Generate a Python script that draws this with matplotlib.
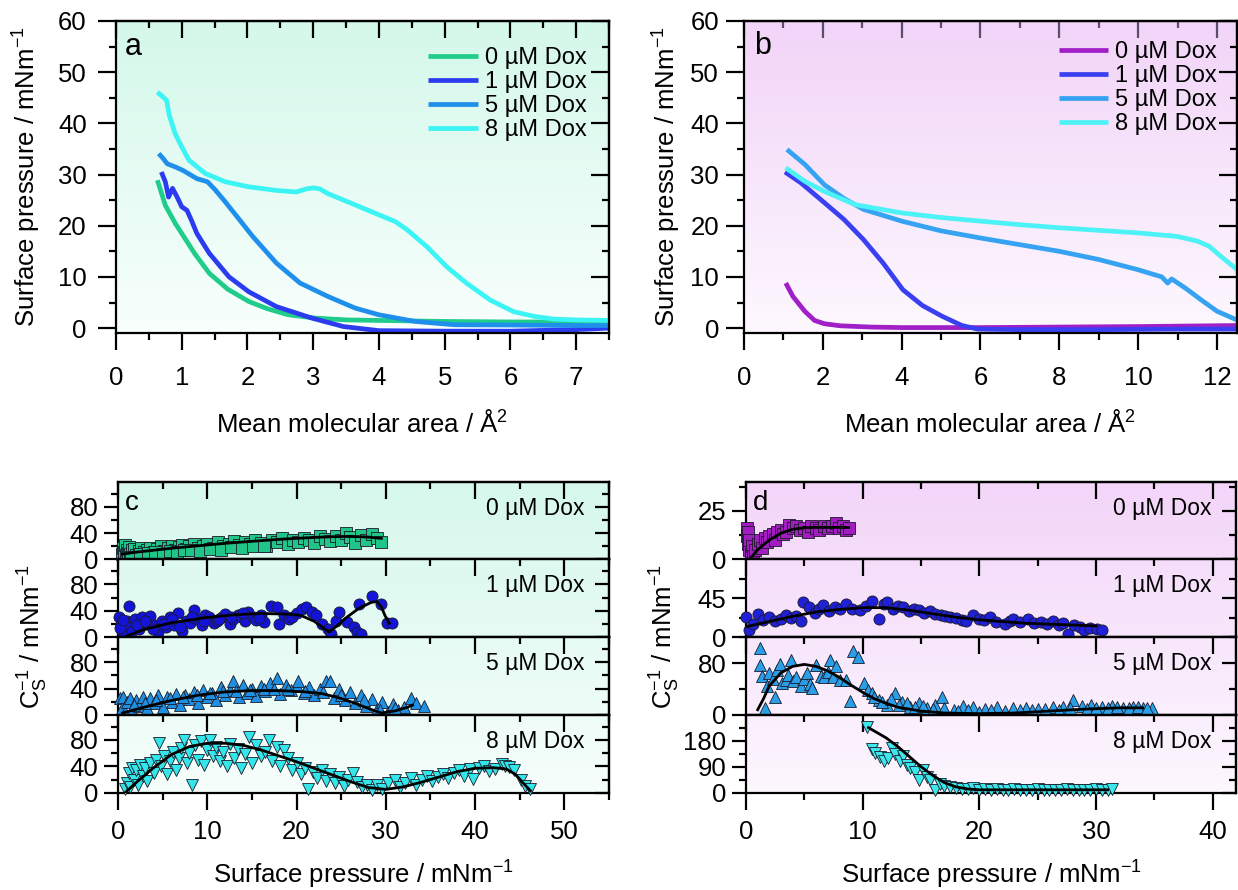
import matplotlib
matplotlib.use("Agg")
import matplotlib.pyplot as plt
import matplotlib.colors as mcolors
import numpy as np
from matplotlib.ticker import MultipleLocator, NullFormatter

plt.rcParams["font.family"] = ["Liberation Sans", "DejaVu Sans"]
plt.rcParams["font.size"] = 18.5
plt.rcParams["axes.linewidth"] = 1.6
plt.rcParams["mathtext.default"] = "regular"

W, H = 1238, 890

labels = ["0 µM Dox", "1 µM Dox", "5 µM Dox", "8 µM Dox"]

# ---- panel a: isotherms ----
area_a0 = [0.63, 0.75, 0.9, 1.0, 1.2, 1.42, 1.7, 2.02, 2.3, 2.62, 3.04, 3.5, 4.0, 5.0, 6.0, 7.0, 7.5]
pi_a0 = [28.9, 24, 20.5, 18.5, 14.5, 10.7, 7.6, 5.2, 3.8, 2.6, 1.95, 1.6, 1.5, 1.3, 1.2, 1.2, 1.2]
area_a1 = [0.69, 0.75, 0.8, 0.86, 0.93, 1.0, 1.08, 1.15, 1.23, 1.42, 1.72, 2.02, 2.44, 2.98, 3.46,
           4.0, 5.0, 6.0, 7.0, 7.5]
pi_a1 = [30.5, 28.6, 25.6, 27.3, 25.6, 23.7, 23.0, 21.0, 18.5, 14.6, 10.0, 7.1, 4.2, 1.95, 0.3,
         -0.5, -0.6, -0.6, -0.3, 0.0]
area_a5 = [0.65, 0.72, 0.78, 0.9, 1.02, 1.23, 1.39, 1.51, 1.66, 1.84, 2.08, 2.44, 2.8, 3.22, 3.64,
           4.0, 4.55, 5.15, 6.0, 7.0, 7.5]
pi_a5 = [34.1, 33.1, 32.1, 31.5, 30.8, 29.2, 28.6, 27.0, 24.7, 21.8, 17.9, 12.7, 8.8, 6.2, 3.9,
         2.6, 1.3, 0.65, 0.6, 0.5, 0.5]
area_a8 = [0.63, 0.72, 0.77, 0.81, 0.9, 1.0, 1.11, 1.36, 1.66, 2.02, 2.44, 2.74, 2.9, 3.0, 3.1,
           3.22, 3.52, 3.95, 4.25, 4.43, 4.73, 5.03, 5.33, 5.69, 6.05, 6.36, 6.66, 7.0, 7.5]
pi_a8 = [46.1, 45.1, 44.5, 41.6, 38.0, 35.4, 32.8, 30.2, 28.6, 27.6, 26.9, 26.6, 27.2, 27.4, 27.2,
         26.3, 24.7, 22.4, 20.8, 19.2, 15.9, 12.0, 8.8, 5.5, 3.2, 2.3, 1.75, 1.6, 1.5]

# ---- panel b: isotherms ----
area_b0 = [1.06, 1.24, 1.54, 1.79, 2.04, 2.44, 3.23, 4, 6, 8, 10, 12.5]
pi_b0 = [8.8, 6.2, 3.3, 1.5, 0.85, 0.45, 0.2, 0.1, 0.1, 0.2, 0.3, 0.5]
area_b1 = [1.04, 1.44, 2.04, 2.54, 3.03, 3.53, 4.03, 4.53, 5.03, 5.53, 5.93, 7, 9, 11, 12.5]
pi_b1 = [30.5, 28.4, 24.5, 21.2, 17.3, 12.7, 7.5, 4.4, 2.3, 0.5, -0.2, -0.3, -0.3, -0.2, -0.2]
area_b5 = [1.09, 1.54, 2.04, 2.54, 3.03, 4.0, 5.0, 6.0, 7.0, 8.0, 9.0, 10.0, 10.6, 10.75, 10.85,
           11.2, 11.6, 12.0, 12.5]
pi_b5 = [34.9, 32.0, 28.0, 25.3, 23.2, 20.9, 19.0, 17.6, 16.3, 15.0, 13.4, 11.4, 10.0, 8.8, 9.6,
         7.8, 5.5, 3.3, 1.6]
area_b8 = [1.06, 1.54, 2.04, 2.83, 4.0, 5.0, 6.0, 7.0, 8.0, 9.0, 10.0, 11.0, 11.5, 11.8, 12.1, 12.5]
pi_b8 = [31.3, 28.7, 26.7, 24.1, 22.5, 21.6, 20.9, 20.2, 19.6, 19.1, 18.6, 17.9, 17.0, 16.0, 14.0, 11.5]

# ---- panel c: compressional modulus (points + fits) ----
pc0 = [0.5, 0.6, 0.7, 0.8, 0.9, 1.0, 1.1, 1.2, 1.4, 1.6, 1.8, 2.0, 2.3, 2.6, 2.9, 3.2, 3.6, 4.0,
       4.4, 4.8, 5.2, 5.6, 6.0, 6.4, 6.8, 7.2, 7.6, 8.0, 8.5, 9.0, 9.5, 10.0, 10.6, 11.2, 11.8,
       12.4, 13.0, 13.6, 14.2, 14.8, 15.4, 16.0, 16.6, 17.2, 17.8, 18.4, 19.0, 19.6, 20.2, 20.8,
       21.4, 22.0, 22.6, 23.2, 23.8, 24.4, 25.0, 25.5, 26.0, 26.6, 27.2, 27.8, 28.4, 29.0, 29.5,
       1.5, 2.5, 3.4, 4.2, 5.0, 5.8, 6.6, 7.4, 8.2, 9.2, 10.3, 11.5, 12.7, 13.9, 15.1, 16.3]
cc0 = [8, 18, 12, 22, 6, 15, 10, 19, 9, 14, 16, 7, 13, 17, 11, 15, 18, 12, 16, 20, 13, 17, 21,
       15, 19, 22, 16, 20, 24, 17, 21, 23, 18, 26, 20, 24, 28, 22, 27, 23, 30, 25, 21, 29, 26,
       32, 24, 30, 27, 33, 29, 25, 35, 31, 28, 36, 30, 40, 34, 25, 37, 29, 39, 33, 26,
       4, 8, 10, 11, 9, 13, 12, 14, 15, 13, 16, 15, 19, 18, 21, 20]
fit_pc0 = [0.5, 2, 4, 6, 8, 10, 12, 14, 16, 18, 20, 22, 24, 26, 28, 29.5]
fit_cc0 = [8, 11, 14, 17, 19.5, 22, 24.5, 26.5, 28.5, 30.5, 32, 33.5, 34.5, 35, 34, 32]

pc1 = [0.1, 0.3, 0.5, 0.75, 1.0, 1.2, 1.4, 1.9, 2.3, 2.7, 3.2, 3.6, 4.1, 4.5, 4.9, 5.4, 5.8, 6.3,
       6.7, 7.2, 7.6, 8.1, 8.5, 8.9, 9.4, 9.8, 10.2, 10.7, 11.1, 11.6, 12.0, 12.5, 12.9, 13.4,
       13.8, 14.2, 14.6, 15.1, 15.5, 16.0, 16.4, 17.1, 17.8, 18.0, 18.6, 19.1, 19.5, 20.1, 20.6,
       21.1, 21.7, 22.2, 22.8, 23.5, 23.9, 24.4, 24.8, 25.7, 26.4, 26.8, 27.2, 27.0, 28.4, 29.5,
       30.1, 30.7, 0.2, 0.6, 1.6, 2.1, 3.0, 3.9, 5.1, 6.0, 7.0, 8.3, 9.6, 11.3, 12.7, 14.0, 15.8]
cc1 = [31, 20, 10, 5, 25, 47, 15, 28, 13, 31, 20, 32, 18, 8, 25, 15, 31, 18, 36, 10, 25, 22, 41,
       28, 18, 33, 31, 22, 25, 30, 35, 20, 28, 33, 31, 24, 38, 30, 26, 34, 23, 47, 46, 20, 33,
       28, 31, 36, 43, 46, 38, 33, 20, 13, 5, 25, 38, 23, 15, 8, 5, 50, 62, 51, 21, 21,
       14, 26, 9, 19, 24, 12, 20, 27, 16, 30, 24, 27, 31, 36, 29]
fit_pc1 = [1.0, 3, 6, 10, 13, 16, 19, 20.5, 22, 23, 23.7, 24.5, 25.7, 27, 28.4, 29.0, 29.5, 29.9, 30.4]
fit_cc1 = [2, 12, 22, 30, 34, 36, 35, 33, 24, 14, 8, 17, 31, 44, 53, 54, 46, 33, 21]

pc5 = [0.2, 0.4, 0.6, 0.8, 1.0, 1.3, 1.6, 2.0, 2.4, 2.8, 3.2, 3.6, 4.0, 4.5, 5.0, 5.5, 6.0, 6.5,
       7.0, 7.5, 8.0, 8.5, 9.0, 9.5, 10.0, 10.5, 11.0, 11.5, 12.0, 12.5, 12.9, 13.5, 14.0, 14.5,
       15.0, 15.5, 16.0, 16.5, 17.0, 17.8, 18.2, 18.8, 19.4, 20.0, 20.2, 20.8, 21.4, 22.0, 22.6,
       23.3, 23.7, 24.2, 24.8, 25.4, 26.0, 26.6, 27.2, 27.8, 28.4, 29.0, 29.6, 30.2, 30.8, 31.4,
       32.0, 32.8, 33.4, 34.3, 1.8, 3.0, 4.3, 5.8, 7.3, 8.8, 10.3, 11.8, 13.2, 14.8, 16.3, 17.5,
       19.0, 21.0, 23.0, 25.0, 27.5, 29.3, 31.0]
cc5 = [25, 10, 28, 5, 20, 26, 8, 22, 14, 27, 10, 25, 18, 30, 12, 28, 20, 32, 15, 30, 24, 35, 18,
       38, 28, 34, 22, 42, 30, 38, 51, 27, 45, 33, 40, 29, 44, 36, 48, 56, 32, 46, 38, 44, 51, 34,
       42, 30, 40, 52, 51, 26, 40, 22, 35, 18, 30, 14, 24, 9, 20, 5, 16, 8, 12, 25, 18, 13,
       15, 18, 22, 25, 28, 31, 33, 36, 37, 38, 39, 40, 39, 37, 35, 31, 22, 8, 10]
fit_pc5 = [0.5, 3, 6, 9, 12, 15, 18, 21, 23, 25, 26.5, 28, 29.5, 31, 32.5, 33]
fit_cc5 = [3, 12, 22, 30, 35, 37, 37, 35, 32, 25, 18, 10, 3, 6, 12, 15]

pc8 = [0.8, 1.0, 1.2, 1.4, 1.6, 1.8, 2.0, 2.2, 2.5, 2.8, 3.0, 3.3, 3.6, 4.0, 4.3, 4.6, 4.8, 5.2,
       5.5, 5.8, 6.2, 6.5, 6.8, 7.1, 7.4, 7.7, 8.0, 8.3, 8.6, 9.0, 9.3, 9.6, 10.0, 10.3, 10.6,
       11.0, 11.4, 11.8, 12.2, 12.6, 13.0, 13.4, 13.8, 14.2, 14.7, 15.0, 15.5, 16.0, 16.5, 16.9,
       17.3, 17.8, 18.2, 18.6, 19.0, 19.5, 20.0, 20.5, 21.0, 21.3, 21.8, 22.3, 22.8, 23.3, 23.8,
       24.3, 24.8, 25.3, 25.8, 26.3, 26.8, 27.3, 27.9, 28.4, 29.0, 29.6, 30.2, 31.0, 31.6, 32.2,
       32.8, 33.4, 34.0, 34.6, 35.2, 35.8, 36.4, 37.0, 37.6, 38.2, 38.8, 39.4, 39.8, 40.4, 41.0,
       41.6, 42.2, 43.0, 43.4, 43.8, 44.4, 45.1, 45.6, 46.2]
cc8 = [5, 15, 30, 8, 38, 20, 35, 12, 42, 25, 38, 18, 45, 30, 50, 75, 40, 55, 28, 48, 62, 35, 52,
       68, 80, 45, 60, 11, 72, 50, 78, 42, 65, 80, 55, 70, 48, 62, 40, 74, 52, 66, 38, 58, 85,
       45, 72, 55, 62, 80, 48, 70, 40, 65, 52, 35, 45, 28, 38, 6, 32, 22, 35, 18, 28, 14, 24, 10,
       20, 30, 16, 8, 11, 4, 12, 6, 14, 19, 8, 15, 22, 12, 20, 25, 18, 24, 28, 22, 30, 34, 26,
       36, 21, 38, 40, 33, 36, 44, 40, 39, 34, 19, 10, 6]
fit_pc8 = [0.8, 2, 4, 6, 8, 10, 12, 14, 16, 18, 20, 22, 24, 26, 28, 30, 32, 34, 36, 38, 40, 42,
           43.5, 44.5, 45.5, 46.2]
fit_cc8 = [0, 15, 38, 58, 70, 75, 75, 72, 65, 56, 47, 37, 27, 17, 8, 5, 9, 16, 24, 32, 37, 38,
           36, 28, 13, 3]

# ---- panel d: compressional modulus (points + fits) ----
pd0 = [0.05, 0.1, 0.15, 0.2, 0.25, 0.3, 0.4, 0.5, 0.6, 0.8, 1.0, 1.2, 1.4, 1.6, 1.8, 2.0, 2.3,
       2.5, 2.7, 3.0, 3.2, 3.4, 3.7, 4.0, 4.3, 4.6, 5.0, 5.3, 5.6, 6.0, 6.3, 6.7, 7.0, 7.4, 7.7,
       8.0, 8.3, 8.6, 8.8]
cd0 = [16, 12, 8, 14, 5, 10, 3, 7, 2, 5, 8, 10, 6, 11, 9, 12, 13, 10, 14, 15, 13, 14, 17.5, 16,
       17, 15, 16, 14, 17, 16, 15, 17, 16, 17, 18.5, 16, 17, 15, 16]
fit_pd0 = [0.3, 1, 2, 3, 4, 5, 6, 7, 8, 8.8]
fit_cd0 = [0, 5, 10, 13.5, 15.5, 16.3, 16.5, 16.5, 16.5, 16.4]

pd1 = [0.0, 0.3, 0.6, 1.0, 1.5, 2.0, 2.5, 3.0, 3.4, 3.9, 4.3, 4.7, 4.9, 5.4, 5.9, 6.3, 6.6,
       7.1, 7.6, 8.1, 8.6, 9.1, 9.8, 10.3, 10.8, 11.4, 11.8, 12.1, 12.6, 13.0, 13.5, 14.0, 14.4,
       14.8, 15.3, 15.8, 16.2, 16.7, 17.1, 17.5, 18.0, 18.5, 18.9, 19.5, 20.0, 20.4, 20.9, 21.4,
       22.2, 22.6, 22.9, 23.5, 24.2, 24.7, 25.3, 25.8, 26.3, 26.8, 27.2, 27.6, 28.1, 28.6, 29.0,
       29.5, 30.1, 30.5]
cd1 = [23, 8, 15, 27, 20, 23, 19, 21, 25, 22, 24, 19, 40, 35, 28, 32, 37, 30, 35, 33, 38, 32,
       31, 36, 42, 21, 38, 40, 33, 36, 35, 30, 33, 31, 28, 30, 27, 25, 24, 23, 22, 20, 19, 25,
       21, 20, 23, 18, 15, 19, 21, 17, 21, 16, 18, 15, 19, 14, 16, 4, 14, 12, 8, 11, 10, 8]
fit_pd1 = [0, 2, 4, 6, 8, 10, 12, 14, 16, 18, 20, 22, 24, 26, 28, 30]
fit_cd1 = [12, 18, 24, 29, 32, 34, 34, 31, 27, 23, 20, 18, 16, 15, 14, 13]

pd5 = [1.2, 1.2, 1.4, 1.6, 1.8, 2.0, 2.3, 2.5, 2.7, 2.9, 3.1, 3.4, 3.6, 3.9, 4.0, 4.3, 4.7, 5.0,
       5.2, 5.5, 5.7, 6.0, 6.4, 6.7, 7.0, 7.2, 7.5, 7.7, 8.1, 8.6, 8.9, 9.2, 9.6, 10.1, 10.5,
       10.8, 11.4, 12.1, 12.8, 13.4, 14.1, 14.8, 15.5, 16.2, 16.8, 17.8, 18.6, 19.5, 20.5, 21.5,
       22.9, 24.0, 25.0, 26.3, 27.2, 28.0, 28.8, 29.6, 30.5, 31.4, 32.3, 33.2, 34.0, 34.8,
       11.0, 11.7, 12.4, 13.1, 13.8, 14.5, 15.2, 16.0, 17.0, 18.2, 19.0, 20.0, 21.0, 22.2, 23.5,
       24.5, 25.6, 26.8, 27.8, 29.2, 30.0, 31.0, 31.8, 32.8, 33.6, 34.4]
cd5 = [103, 77, 60, 10, 45, 64, 55, 28, 70, 79, 50, 54, 62, 85, 52, 58, 44, 56, 64, 48, 41, 77,
       60, 59, 66, 85, 58, 75, 54, 54, 21, 98, 90, 49, 38, 34, 23, 15, 34, 20, 13, 18, 10, 15,
       28, 8, 14, 13, 9, 12, 10, 11, 9, 13, 12, 23, 14, 15, 12, 14, 10, 12, 11, 10,
       28, 20, 24, 16, 19, 12, 14, 9, 11, 6, 8, 5, 7, 6, 8, 7, 9, 8, 10, 9, 11, 10, 12, 11, 12, 11]
fit_pd5 = [1, 1.5, 2, 3, 4, 5, 6, 7, 8, 9, 10, 11, 12, 13, 15, 17, 20, 23, 26, 29, 32, 34]
fit_cd5 = [8, 25, 45, 65, 75, 78, 75, 68, 58, 46, 35, 25, 18, 12, 6, 3, 2, 3, 6, 9, 11, 11]

pd8 = [10.4, 10.8, 11.1, 11.5, 11.8, 12.2, 12.5, 12.8, 13.2, 13.5, 13.8, 14.1, 14.5, 14.8, 15.2,
       15.5, 15.8, 16.2, 16.6, 17.0, 17.5, 18.0, 18.5, 19.0, 19.5, 20.0, 20.5, 21.0, 21.5, 22.0,
       22.5, 23.0, 23.5, 24.0, 24.5, 25.0, 25.5, 26.0, 26.5, 27.0, 27.5, 28.0, 28.5, 29.0, 29.5,
       30.0, 30.5, 31.0, 31.4]
cd8 = [227, 150, 139, 125, 109, 120, 156, 133, 110, 127, 95, 86, 70, 45, 80, 55, 45, 9, 30, 22,
       18, 15, 14, 12, 16, 11, 13, 10, 12, 11, 10, 12, 11, 10, 11, 12, 10, 11, 10, 11, 12, 10,
       11, 10, 11, 12, 10, 11, 13]
fit_pd8 = [10.5, 12, 13, 14, 15, 16, 17, 18, 19, 20, 25, 30, 31]
fit_cd8 = [225, 190, 160, 125, 90, 60, 35, 20, 13, 10, 10, 10, 10]

colors_a = ["#1fcc8a", "#2b3bf0", "#1f8fec", "#3cf4f4"]
colors_b = ["#a01fc6", "#3a40f2", "#35a2f2", "#4df2f6"]
colors_c = ["#20c587", "#1414d8", "#1e8fe2", "#33e6ea"]
colors_d = ["#a21dbf", "#2020d6", "#2a9ee6", "#3ce8ec"]
markers = ["s", "o", "^", "v"]


def px_rect(left, top, right, bottom):
    return [left / W, 1 - bottom / H, (right - left) / W, (bottom - top) / H]


def add_gradient(ax, top, bottom, f_lo=0.0, f_hi=1.0):
    c_top = np.array(mcolors.to_rgb(top))
    c_bot = np.array(mcolors.to_rgb(bottom))
    t = np.linspace(f_hi, f_lo, 200)[:, None, None]
    img = c_bot + (c_top - c_bot) * t
    ax.imshow(img, extent=(0, 1, 0, 1), transform=ax.transAxes, aspect="auto",
              zorder=-10, interpolation="bilinear")


def style_axis(ax, xmaj, xmin, ymaj, ymin, bottom=True, top_color="black",
               ylen=12, ypad=6, xpad=6):
    for axis, maj, mnr in ((ax.xaxis, xmaj, xmin), (ax.yaxis, ymaj, ymin)):
        axis.set_major_locator(MultipleLocator(maj))
        axis.set_minor_locator(MultipleLocator(mnr))
    ax.tick_params(which="both", direction="out", top=False, right=False, width=1.6)
    ax.tick_params(axis="x", which="major", length=12, pad=xpad)
    ax.tick_params(axis="y", which="major", length=ylen, pad=ypad)
    ax.tick_params(which="minor", length=5)
    if not bottom:
        ax.tick_params(axis="x", which="both", bottom=False, labelbottom=False)
    sec_top = ax.secondary_xaxis("top")
    sec_top.xaxis.set_major_locator(MultipleLocator(xmaj))
    sec_top.xaxis.set_minor_locator(MultipleLocator(xmin))
    sec_top.xaxis.set_major_formatter(NullFormatter())
    sec_top.tick_params(which="both", direction="in", width=1.6, color=top_color)
    sec_top.tick_params(which="major", length=12)
    sec_top.tick_params(which="minor", length=5)
    sec_right = ax.secondary_yaxis("right")
    sec_right.yaxis.set_major_locator(MultipleLocator(ymaj))
    sec_right.yaxis.set_minor_locator(MultipleLocator(ymin))
    sec_right.yaxis.set_major_formatter(NullFormatter())
    sec_right.tick_params(which="both", direction="in", width=1.6)
    sec_right.tick_params(which="major", length=ylen)
    sec_right.tick_params(which="minor", length=5)


fig = plt.figure(figsize=(W / 100, H / 100), dpi=100)

# ---------- panel a ----------
ax_a = fig.add_axes(px_rect(116, 21, 609, 332.7))
add_gradient(ax_a, "#d4f8ea", "#f8fffd")
for x, y, c, lab in zip([area_a0, area_a1, area_a5, area_a8], [pi_a0, pi_a1, pi_a5, pi_a8],
                        colors_a, labels):
    ax_a.plot(x, y, color=c, lw=3.4, label=lab, solid_capstyle="butt")
ax_a.set_xlim(0, 7.5)
ax_a.set_ylim(-0.9, 60)
style_axis(ax_a, 1, 0.5, 10, 5, ylen=13, ypad=8, xpad=12)
ax_a.legend(loc="upper right", bbox_to_anchor=(0.955, 0.915), frameon=False, borderpad=0,
            borderaxespad=0, handlelength=2.1, handletextpad=0.3, labelspacing=0.08,
            fontsize=17)
ax_a.text(0.018, 0.89, "a", transform=ax_a.transAxes, fontsize=22, va="baseline")

# ---------- panel b ----------
ax_b = fig.add_axes(px_rect(744, 21, 1236.7, 332.7))
add_gradient(ax_b, "#f2d4f8", "#fdf8fe")
for x, y, c, lab in zip([area_b0, area_b1, area_b5, area_b8], [pi_b0, pi_b1, pi_b5, pi_b8],
                        colors_b, labels):
    ax_b.plot(x, y, color=c, lw=3.4, label=lab, solid_capstyle="butt")
ax_b.set_xlim(0, 12.5)
ax_b.set_ylim(-0.9, 60)
style_axis(ax_b, 2, 1, 10, 5, top_color="#5e4d6a", ylen=13, ypad=5, xpad=12)
ax_b.legend(loc="upper right", bbox_to_anchor=(0.96, 0.935), frameon=False, borderpad=0,
            borderaxespad=0, handlelength=2.1, handletextpad=0.3, labelspacing=0.08,
            fontsize=17)
ax_b.text(0.02, 0.895, "b", transform=ax_b.transAxes, fontsize=22, va="baseline")

for xc in (362, 990):
    fig.text(xc / W, 1 - 423 / H, "Mean molecular area / Å$^2$", ha="center", va="center",
             fontsize=18.5)
fig.text(27 / W, 1 - 177 / H, "Surface pressure / mNm$^{-1}$", rotation=90, ha="center",
         va="center", fontsize=18.5)
fig.text(667 / W, 1 - 177 / H, "Surface pressure / mNm$^{-1}$", rotation=90, ha="center",
         va="center", fontsize=18.5)

# ---------- panels c and d ----------
rows_top, rows_bottom = 481.7, 792.7
row_h = (rows_bottom - rows_top) / 4

panel_c = [(pc0, cc0, fit_pc0, fit_cc0), (pc1, cc1, fit_pc1, fit_cc1),
           (pc5, cc5, fit_pc5, fit_cc5), (pc8, cc8, fit_pc8, fit_cc8)]
panel_d = [(pd0, cd0, fit_pd0, fit_cd0), (pd1, cd1, fit_pd1, fit_cd1),
           (pd5, cd5, fit_pd5, fit_cd5), (pd8, cd8, fit_pd8, fit_cd8)]
ylims_c = [(118, 40, 20)] * 4
ylims_d = [(40, 25, 12.5), (89.5, 45, 22.5), (120, 80, 40), (269, 90, 45)]

for left, right, data, colors, ylims, xmax, grad, letter in (
        (118, 609, panel_c, colors_c, ylims_c, 55, ("#d6f8ec", "#f6fefb"), "c"),
        (746, 1236, panel_d, colors_d, ylims_d, 42, ("#f3d5f9", "#fdf7fe"), "d")):
    for i, ((px, cy, fx, fy), col, (ytop, ymaj, ymin)) in enumerate(zip(data, colors, ylims)):
        top = rows_top + i * row_h
        ax = fig.add_axes(px_rect(left, top, right, top + row_h))
        add_gradient(ax, *grad, f_lo=1 - (i + 1) / 4, f_hi=1 - i / 4)
        ax.plot(px, cy, ls="none", marker=markers[i], ms=8, mfc=col, mec="#1a1a2a",
                mew=0.6, clip_on=False, zorder=3)
        ax.plot(fx, fy, color="black", lw=2, zorder=4)
        ax.set_xlim(0, xmax)
        ax.set_ylim(0, ytop)
        style_axis(ax, 10, 5, ymaj, ymin, bottom=(i == 3), ylen=10, ypad=4, xpad=8)
        ax.text(0.95, 0.66, labels[i], transform=ax.transAxes, ha="right", va="center",
                fontsize=16.5)
        if i == 0:
            ax.text(0.014, 0.64, letter, transform=ax.transAxes, fontsize=20, va="baseline")
    xc = (left + right) / 2
    fig.text(xc / W, 1 - 875 / H, "Surface pressure / mNm$^{-1}$", ha="center", va="center",
             fontsize=18.5)

fig.text(33 / W, 1 - 637 / H, "C$_S^{-1}$ / mNm$^{-1}$", rotation=90, ha="center",
         va="center", fontsize=18.5)
fig.text(665 / W, 1 - 637 / H, "C$_S^{-1}$ / mNm$^{-1}$", rotation=90, ha="center",
         va="center", fontsize=18.5)

fig.savefig("out.png", dpi=100)
